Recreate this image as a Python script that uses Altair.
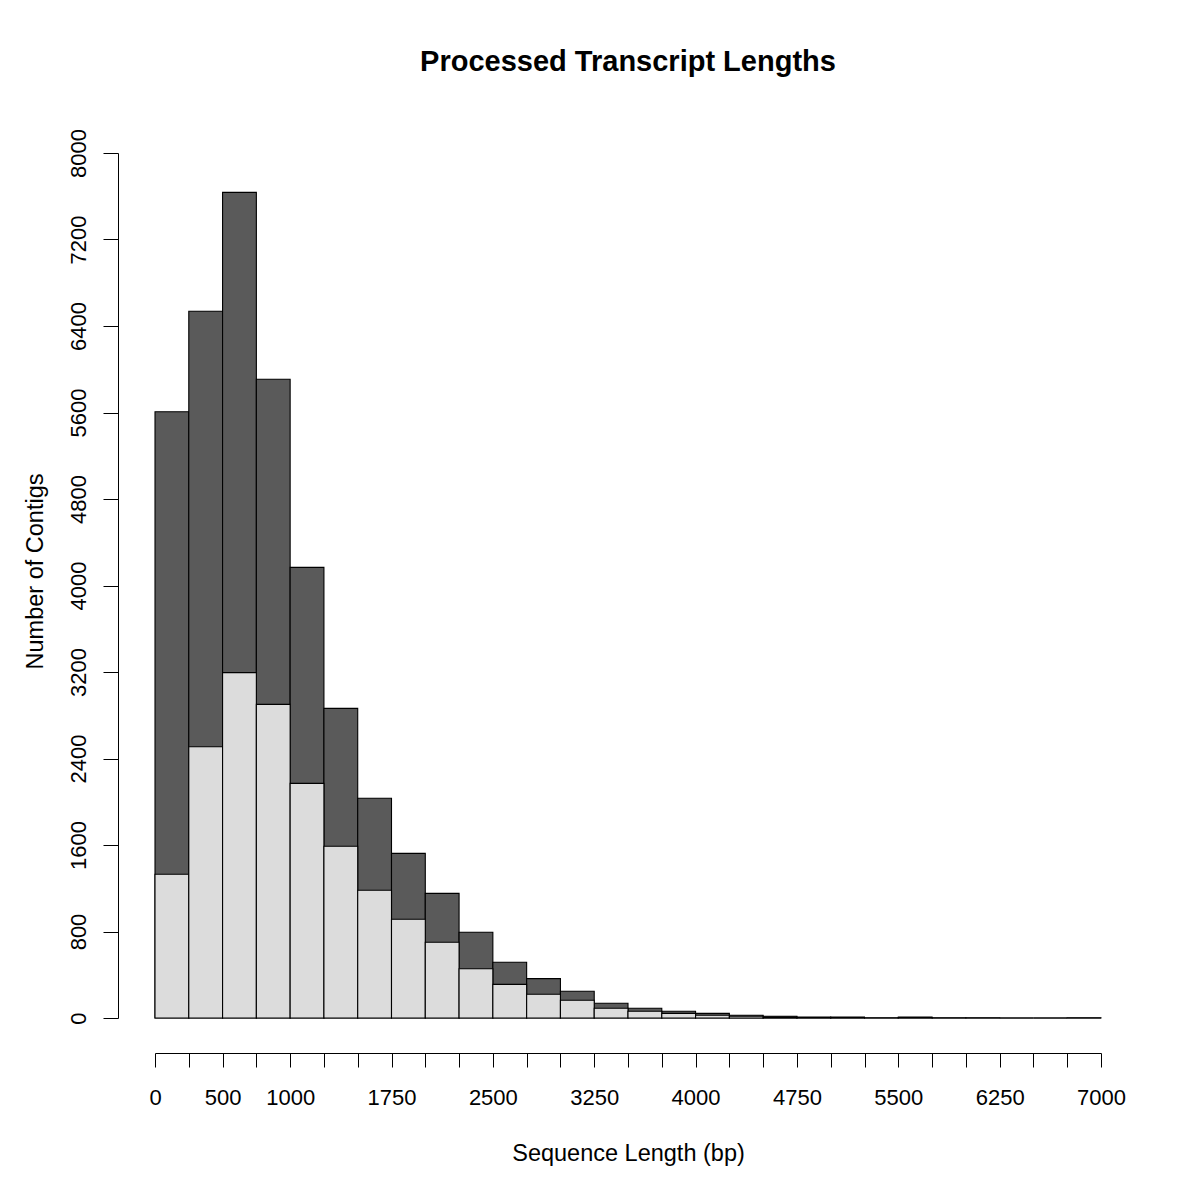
import altair as alt
import pandas as pd

# Histogram bins (250 bp wide, 0 - 7000)
bin_start = list(range(0, 7000, 250))
total_counts = [5607, 6536, 7636, 5907, 4168, 2864, 2032, 1523, 1153, 793,
                515, 364, 247, 136, 90, 62, 43, 25, 16, 8,
                8, 1, 8, 1, 1, 0, 0, 1]
subset_counts = [1329, 2509, 3194, 2901, 2170, 1588, 1181, 913, 700, 456,
                 311, 219, 164, 90, 62, 43, 25, 16, 9, 4,
                 4, 0, 4, 0, 0, 0, 0, 0]

x_ticks = list(range(0, 7001, 250))
x_labels_shown = [0, 500, 1000, 1750, 2500, 3250, 4000, 4750, 5500, 6250, 7000]
y_ticks = list(range(0, 8001, 800))

df = pd.DataFrame({
    "start": bin_start,
    "end": [s + 250 for s in bin_start],
    "total": total_counts,
    "subset": subset_counts,
})

FONT = "Liberation Sans"

label_expr = "indexof([" + ",".join(str(v) for v in x_labels_shown) + "], datum.value) >= 0 ? datum.label : ''"

x_enc = alt.X(
    "start:Q",
    scale=alt.Scale(domain=[0, 7000], nice=False, zero=False),
    axis=alt.Axis(
        title="Sequence Length (bp)",
        values=x_ticks,
        tickCount=40,
        format="d",
        labelExpr=label_expr,
        offset=35,
        tickSize=14,
        labelPadding=20,
        labelOverlap=False,
        labelFlush=False,
        labelFontSize=22,
        labelFont=FONT,
        labelColor="black",
        domainColor="black",
        tickColor="black",
        grid=False,
        titleFontSize=23.5,
        titleFont=FONT,
        titleFontWeight="normal",
        titleColor="black",
        titleBaseline="alphabetic",
        titleY=107,
    ),
)

y_enc = alt.Y(
    "total:Q",
    scale=alt.Scale(domain=[0, 8000], nice=False),
    axis=alt.Axis(
        title="Number of Contigs",
        values=y_ticks,
        tickCount=20,
        format="d",
        offset=37,
        tickSize=15,
        labelPadding=18,
        labelAngle=270,
        labelAlign="center",
        labelBaseline="alphabetic",
        labelOverlap=False,
        labelFlush=False,
        labelFontSize=22,
        labelFont=FONT,
        labelColor="black",
        domainColor="black",
        tickColor="black",
        grid=False,
        titleFontSize=23.5,
        titleFont=FONT,
        titleFontWeight="normal",
        titleColor="black",
        titleAngle=270,
        titleAlign="center",
        titleBaseline="alphabetic",
        titleX=-76,
        titleY=418,
    ),
)

dark = alt.Chart(df).mark_rect(
    color="#5A5A5A", stroke="black", strokeWidth=1.1
).encode(
    x=x_enc,
    x2="end:Q",
    y=y_enc,
    y2=alt.datum(0),
)

light = alt.Chart(df).mark_rect(
    color="#DCDCDC", stroke="black", strokeWidth=1.1
).encode(
    x="start:Q",
    x2="end:Q",
    y="subset:Q",
    y2=alt.datum(0),
)

chart = alt.layer(dark, light).properties(
    width=946,
    height=865,
    background="white",
    autosize=alt.AutoSizeParams(type="none"),
    padding={"left": 147, "top": 145, "right": 90, "bottom": 170},
    title=alt.TitleParams(
        text="Processed Transcript Lengths",
        fontSize=29,
        fontWeight="bold",
        font=FONT,
        color="black",
        anchor="middle",
        frame="group",
        baseline="alphabetic",
        offset=29,
    ),
).configure_view(strokeWidth=0)

chart.save("out.html", embed_options={"renderer": "svg", "actions": False})
